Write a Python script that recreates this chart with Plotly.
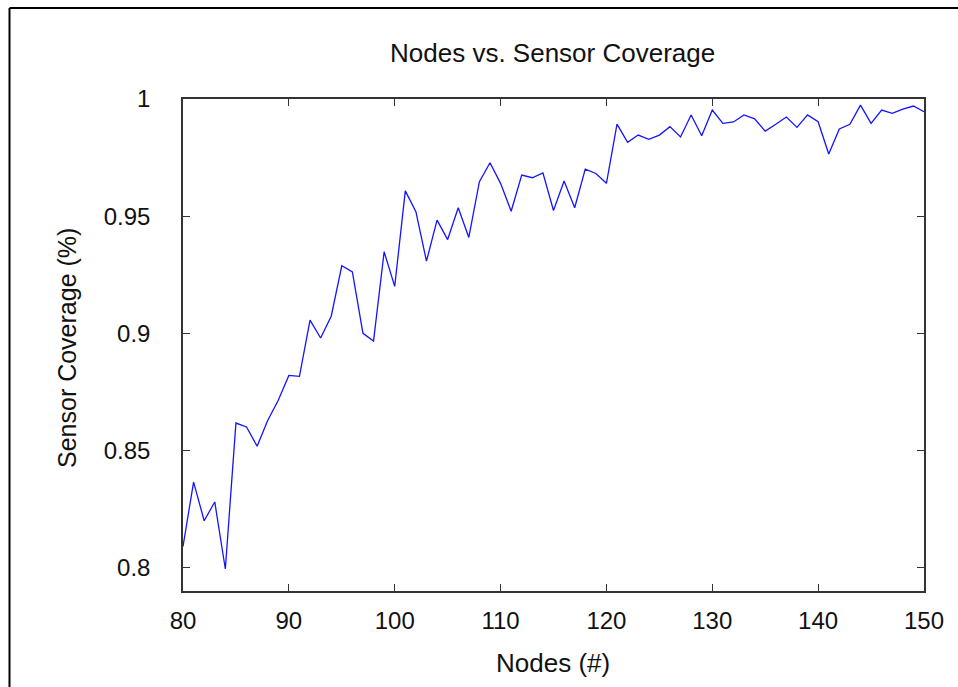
import plotly.graph_objects as go

nodes = list(range(80, 151))
coverage = [
    0.809, 0.8365, 0.820, 0.828, 0.7994, 0.8617, 0.860, 0.8518, 0.8628, 0.8714,
    0.882, 0.8816, 0.9056, 0.898, 0.9073, 0.9288, 0.9262, 0.9000, 0.8967, 0.9348,
    0.920, 0.9608, 0.9519, 0.9308, 0.9483, 0.940, 0.9536, 0.9409, 0.9647, 0.9728,
    0.964, 0.9521, 0.9675, 0.9664, 0.9685, 0.9524, 0.965, 0.9536, 0.9701, 0.9682,
    0.964, 0.9893, 0.9815, 0.9846, 0.9828, 0.9846, 0.9882, 0.9838, 0.9932, 0.9843,
    0.9953, 0.9896, 0.9902, 0.9932, 0.9915, 0.9863, 0.9892, 0.9923, 0.9879, 0.9932,
    0.9903, 0.9765, 0.9872, 0.9892, 0.9974, 0.9896, 0.9953, 0.9939, 0.9957, 0.997,
    0.9946,
]
x_ticks = [80, 90, 100, 110, 120, 130, 140, 150]
y_ticks = [0.8, 0.85, 0.9, 0.95, 1.0]
y_tick_text = ["0.8", "0.85", "0.9", "0.95", "1"]

FONT = "Liberation Sans, Arial, sans-serif"
W, H = 958, 687
L, R, T, B = 183, 34, 99, 96
pw, ph = W - L - R, H - T - B

def px_x(X):
    return (X - L) / pw

def px_y(Y):
    return (H - B - Y) / ph

fig = go.Figure()
fig.add_trace(go.Scatter(
    x=nodes, y=coverage, mode="lines",
    line=dict(color="rgb(20,20,255)", width=1.3),
    showlegend=False,
))

axis_common = dict(
    showline=True, linecolor="#333333", linewidth=1.5, mirror="ticks",
    ticks="inside", ticklen=7, tickwidth=1.3, tickcolor="#333333",
    showgrid=False, zeroline=False,
    tickfont=dict(family=FONT, size=24, color="#111111"),
)

fig.update_layout(
    width=W, height=H,
    margin=dict(l=L, r=R, t=T, b=B),
    paper_bgcolor="white", plot_bgcolor="white",
    xaxis=dict(range=[80, 150], tickvals=x_ticks, ticklabelstandoff=7, **axis_common),
    yaxis=dict(range=[0.79, 1.0], tickvals=y_ticks, ticktext=y_tick_text,
               ticklabelstandoff=26, **axis_common),
    annotations=[
        dict(text="Nodes vs. Sensor Coverage", x=px_x(552), y=px_y(53),
             xref="paper", yref="paper", showarrow=False,
             xanchor="center", yanchor="middle",
             font=dict(family=FONT, size=26, color="#111111")),
        dict(text="Nodes (#)", x=px_x(553), y=px_y(663),
             xref="paper", yref="paper", showarrow=False,
             xanchor="center", yanchor="middle",
             font=dict(family=FONT, size=26, color="#111111")),
        dict(text="Sensor Coverage (%)", x=px_x(67), y=px_y(348),
             xref="paper", yref="paper", showarrow=False, textangle=-90,
             xanchor="center", yanchor="middle",
             font=dict(family=FONT, size=25, color="#111111")),
    ],
    shapes=[
        dict(type="line", xref="paper", yref="paper",
             x0=px_x(9.5), x1=px_x(W + 5), y0=px_y(8), y1=px_y(8),
             line=dict(color="black", width=2)),
        dict(type="line", xref="paper", yref="paper",
             x0=px_x(9.5), x1=px_x(9.5), y0=px_y(8), y1=px_y(H + 5),
             line=dict(color="black", width=2)),
    ],
)

fig.write_html("out.html", config={"displayModeBar": False},
               post_script="document.body.style.margin='0';document.body.style.overflow='hidden';")
